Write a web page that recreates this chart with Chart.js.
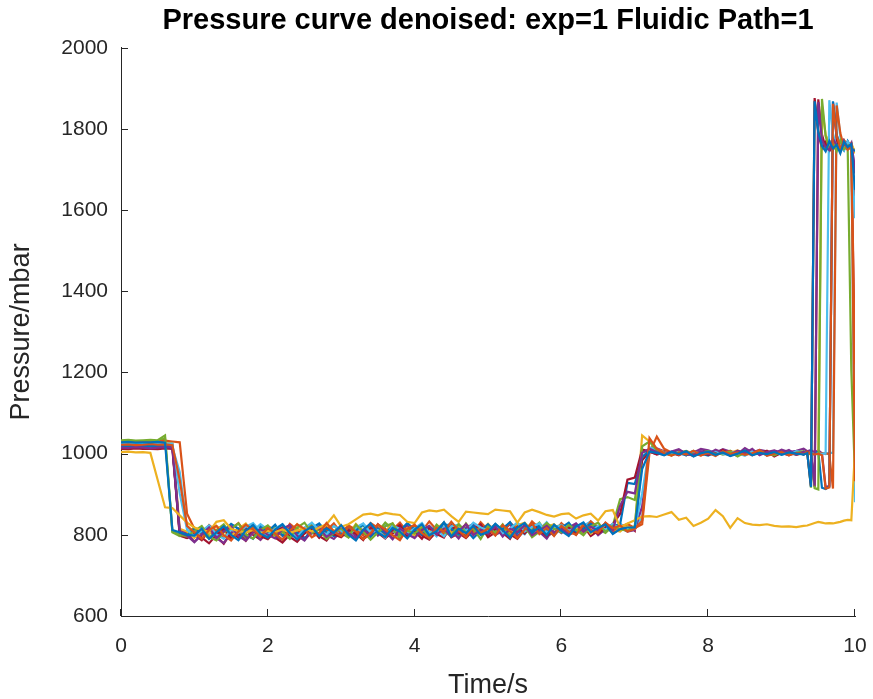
<!DOCTYPE html>
<html>
<head>
<meta charset="utf-8">
<script src="https://cdn.jsdelivr.net/npm/chart.js@4.4.1/dist/chart.umd.min.js"></script>
<style>
  html, body { margin: 0; padding: 0; background: #fff; }
  #wrap { width: 873px; height: 699px; }
</style>
</head>
<body>
<div id="wrap"><canvas id="pressure-chart" width="873" height="699"></canvas></div>
<script>
// time axis (s): 0.1 s steps, then 0.05 s over the final pulse
const timeS = [
  0,0.1,0.2,0.3,0.4,0.5,0.6,0.7,0.8,0.9,
  1,1.1,1.2,1.3,1.4,1.5,1.6,1.7,1.8,1.9,
  2,2.1,2.2,2.3,2.4,2.5,2.6,2.7,2.8,2.9,
  3,3.1,3.2,3.3,3.4,3.5,3.6,3.7,3.8,3.9,
  4,4.1,4.2,4.3,4.4,4.5,4.6,4.7,4.8,4.9,
  5,5.1,5.2,5.3,5.4,5.5,5.6,5.7,5.8,5.9,
  6,6.1,6.2,6.3,6.4,6.5,6.6,6.7,6.8,6.9,
  7,7.1,7.2,7.3,7.4,7.5,7.6,7.7,7.8,7.9,
  8,8.1,8.2,8.3,8.4,8.5,8.6,8.7,8.8,8.9,
  9,9.1,9.2,9.3,
  9.35,9.4,9.45,9.5,9.55,9.6,9.65,9.7,9.75,9.8,9.85,9.9,9.95,10
];

const xTicks = [0, 2, 4, 6, 8, 10];
const yTicks = [600, 800, 1000, 1200, 1400, 1600, 1800, 2000];

// pressure (mbar), one array per run
const blue1 = [
  1028,1029,1027,1028,1028,1029,1027,812,806,800,
  798,815,790,806,821,800,787,811,824,803,
  793,813,826,804,789,809,820,797,816,805,
  824,800,786,812,828,805,795,817,808,791,
  813,826,799,809,831,796,815,804,822,800,
  807,827,812,793,818,829,805,819,799,825,
  810,797,821,830,806,817,826,802,814,818,
  818,962,1005,1002,996,1004,999,1006,993,1001,
  1005,997,1003,994,1000,1008,996,1002,999,1004,
  997,1003,1000,998,
  1001,918,1868,1792,1758,1745,1770,1752,1761,1740,1768,1755,1762,1650
];
const orange1 = [
  1022,1023,1021,1022,1024,1022,1023,1021,935,822,
  806,790,812,822,799,786,808,825,813,796,
  817,803,788,810,826,815,794,805,829,808,
  797,820,808,789,804,826,813,799,787,815,
  825,804,792,817,808,832,811,794,821,805,
  815,798,824,809,792,813,828,802,817,797,
  822,808,800,825,812,805,830,816,823,808,
  815,835,1038,1012,1001,995,1003,998,1007,996,
  1002,994,1006,999,1003,997,1001,1009,995,1000,
  1004,996,1002,999,
  1003,1000,998,1000,996,914,917,1862,1785,1752,1768,1749,1760,932
];
const yellowOdd = [
  1004,1005,1003,1004,1002,935,868,866,848,830,
  818,812,808,832,836,815,809,806,812,804,
  810,807,813,805,811,816,808,818,826,848,
  820,826,838,850,852,848,854,851,849,832,
  829,855,860,858,862,846,832,857,855,853,
  851,862,860,858,830,855,862,856,849,845,
  851,853,840,848,852,835,858,861,818,828,
  836,845,846,844,850,856,837,842,822,830,
  840,861,846,817,841,829,825,824,826,822,
  820,821,819,822,
  823,826,829,832,830,828,829,828,830,832,835,837,836,1010
];
const purple1 = [
  1015,1014,1016,1015,1013,1015,1016,1015,806,798,
  782,801,818,792,808,821,797,786,806,814,
  800,791,815,824,798,786,809,817,795,806,
  821,804,791,813,800,826,808,789,816,802,
  792,812,822,801,815,795,808,826,799,813,
  803,821,796,815,807,824,799,811,822,805,
  816,801,826,808,820,811,829,812,872,906,
  902,1002,1012,1004,998,1005,1011,1000,996,1006,
  999,1010,1003,997,1007,1001,1012,996,1004,1008,
  1002,1009,997,1005,
  1000,1003,921,1866,1772,1755,1748,1776,1760,1745,1771,1752,1764,1702
];
const green1 = [
  1033,1034,1032,1033,1034,1033,1045,809,800,796,
  810,822,795,786,806,816,828,801,791,812,
  823,799,808,792,818,830,804,813,790,805,
  816,795,825,808,788,806,821,828,799,810,
  803,818,792,823,808,797,827,805,815,790,
  820,805,826,798,813,821,794,808,829,815,
  806,824,812,799,821,830,807,822,814,810,
  822,1018,1030,1008,1001,996,1003,1007,995,1002,
  1006,998,1001,1005,993,1003,999,1007,1000,996,
  1004,999,1002,1006,
  998,1001,915,912,1874,1782,1751,1766,1745,1772,1750,1758,1205,940
];
const cyan1 = [
  1024,1025,1023,1024,1026,1024,1025,1025,902,812,
  797,810,823,801,790,813,805,820,829,808,
  800,815,826,806,794,817,830,811,801,822,
  810,797,818,828,805,812,793,822,815,803,
  816,829,805,813,796,821,825,809,830,818,
  811,826,802,815,831,808,820,828,806,817,
  824,810,818,831,807,822,813,827,816,810,
  816,902,1016,1009,1002,997,1005,1000,1006,998,
  1003,1007,998,1004,1001,995,1006,1002,997,1005,
  1001,998,1006,1003,
  1000,1002,997,1001,999,1002,1871,1788,1755,1762,1748,1769,1757,1580
];
const red1 = [
  1012,1011,1013,1012,1012,1011,1013,1012,800,793,
  806,793,779,800,816,791,803,785,811,797,
  789,808,818,795,783,804,813,793,817,801,
  794,811,803,787,818,805,791,812,824,798,
  808,790,817,802,793,823,806,797,814,826,
  800,815,805,790,820,803,827,811,797,816,
  808,820,800,824,812,803,817,826,852,936,
  941,1010,1006,998,1003,996,1008,1001,994,1004,
  997,1003,1009,995,1002,1006,998,1001,1007,993,
  1002,996,1004,999,
  1002,920,1876,1790,1752,1768,1745,1760,1772,1749,1763,1750,1758,1620
];
const blue2 = [
  1018,1019,1017,1018,1018,1019,1018,1018,805,799,
  815,805,822,797,810,827,815,800,790,820,
  808,825,798,813,805,788,817,828,806,797,
  801,818,810,826,795,815,804,822,810,829,
  813,800,821,807,829,815,801,813,792,810,
  826,807,815,831,804,817,810,824,812,799,
  818,830,805,815,827,816,809,822,826,928,
  925,992,1008,1003,997,1005,1001,996,1004,1000,
  995,1004,1000,997,1006,1002,999,1005,996,1003,
  998,1002,1005,997,
  1003,999,1001,1004,916,913,919,1868,1786,1760,1747,1770,1753,1745
];
const orange2 = [
  1030,1031,1029,1030,1031,1030,1032,1030,1028,852,
  815,800,824,809,792,815,829,804,817,797,
  822,810,798,827,813,803,821,794,811,828,
  804,823,812,798,829,817,801,813,830,807,
  823,809,833,812,802,819,810,826,805,831,
  812,826,803,830,814,806,833,816,827,804,
  829,812,822,808,833,818,825,811,820,827,
  817,826,1002,1042,1012,1003,997,1006,1001,995,
  1004,998,1002,1006,999,1003,996,1005,1001,1007,
  1000,1004,997,1002,
  1005,1001,998,1003,1000,1002,998,914,1858,1790,1755,1768,1751,1220
];
const yellow2 = [
  1026,1027,1025,1026,1026,1027,1026,1026,815,808,
  792,812,801,822,809,796,815,828,804,817,
  805,793,813,801,826,808,818,797,822,810,
  815,801,827,809,795,820,808,828,803,817,
  798,824,809,815,830,804,821,799,817,808,
  827,808,819,803,824,830,812,805,820,826,
  808,823,814,829,803,817,827,812,808,823,
  815,1045,1030,1011,1004,999,1006,1002,998,1005,
  1001,1006,997,1003,1008,1000,1004,998,1006,1002,
  999,1005,1001,1003,
  1000,998,1002,1001,1855,1784,1770,1755,1766,1748,1772,1757,1765,1740
];
const purple2 = [
  1020,1021,1019,1020,1021,1020,1019,1020,812,804,
  783,800,813,792,780,804,816,795,808,788,
  812,797,788,818,806,792,804,821,800,790,
  809,820,796,804,826,798,815,791,806,823,
  796,815,804,821,798,810,791,817,827,803,
  815,800,810,826,797,812,822,807,791,818,
  804,818,828,809,822,799,814,826,818,808,
  812,870,1010,1013,1006,1001,1009,996,1003,1012,
  1008,1002,1011,1005,999,1014,1003,1009,1006,1001,
  1010,1004,1007,1012,
  1006,1009,1003,1008,1001,917,921,1866,1778,1762,1770,1752,1766,1690
];
const green2 = [
  1030,1031,1029,1030,1030,1031,1038,806,797,803,
  818,805,791,812,826,800,810,788,821,806,
  796,820,808,790,815,804,828,797,810,823,
  804,793,816,824,799,808,830,814,791,812,
  820,806,798,825,809,817,795,828,806,818,
  802,826,811,799,828,805,815,830,804,820,
  824,808,817,801,830,814,805,822,888,893,
  886,1003,1008,1001,1005,997,1004,999,1007,1002,
  998,1004,1001,1007,996,1002,1005,999,1003,997,
  1005,1000,1003,998,
  1001,916,1870,1795,1760,1748,1771,1755,1762,1744,1767,1752,1760,1745
];
const cyan2 = [
  1016,1017,1015,1016,1017,1016,1015,1016,955,818,
  804,819,795,808,823,800,815,791,810,826,
  813,802,822,808,793,818,804,826,812,799,
  820,808,797,826,812,801,828,810,799,818,
  806,824,812,796,820,829,804,816,825,809,
  824,807,817,829,811,801,826,813,831,806,
  815,829,806,822,833,811,825,817,828,812,
  819,843,1012,1005,999,1003,1008,997,1002,1006,
  1000,996,1004,1001,1006,998,1003,1007,999,1002,
  1004,1001,997,1003,
  1000,1004,1002,999,1001,999,1002,1002,1865,1780,1756,1769,1752,880
];
const red2 = [
  1022,1023,1021,1022,1022,1023,1021,1022,798,792,
  800,787,812,796,778,806,793,817,800,788,
  806,793,781,801,815,791,805,797,786,810,
  796,817,805,790,801,812,793,803,820,795,
  815,798,788,808,820,794,804,792,811,822,
  794,806,816,801,790,813,804,819,797,806,
  816,800,808,822,797,810,821,805,813,826,
  810,984,1004,999,1007,1002,996,1005,1000,1009,
  1003,997,1006,1001,995,1008,1002,999,1005,996,
  1002,1006,999,1004,
  998,1002,918,1873,1786,1754,1770,1749,1765,1756,1772,1760,1748,1180
];

// MATLAB default colour order
const matlabColors = {
  blue: '#0072BD', orange: '#D95319', yellow: '#EDB120', purple: '#7E2F8E',
  green: '#77AC30', cyan: '#4DBEEE', red: '#A2142F'
};

const runs = [
  [blue1, 'blue'], [orange1, 'orange'], [yellowOdd, 'yellow'], [purple1, 'purple'],
  [green1, 'green'], [cyan1, 'cyan'], [red1, 'red'], [blue2, 'blue'],
  [orange2, 'orange'], [yellow2, 'yellow'], [purple2, 'purple'], [green2, 'green'],
  [cyan2, 'cyan'], [red2, 'red']
];

const axisColor = '#262626';
const fontFamily = '"Liberation Sans", Arial, Helvetica, sans-serif';

// MATLAB style tick marks pointing into the axes
const innerTicks = {
  id: 'innerTicks',
  afterDraw(chart) {
    const {ctx, chartArea, scales} = chart;
    ctx.save();
    ctx.strokeStyle = axisColor;
    ctx.lineWidth = 1;
    ctx.beginPath();
    xTicks.forEach(v => {
      const px = Math.round(scales.x.getPixelForValue(v)) - 0.5;
      ctx.moveTo(px, chartArea.bottom);
      ctx.lineTo(px, chartArea.bottom - 7);
    });
    yTicks.forEach(v => {
      const py = Math.round(scales.y.getPixelForValue(v)) + 0.5;
      ctx.moveTo(chartArea.left, py);
      ctx.lineTo(chartArea.left + 7, py);
    });
    ctx.stroke();
    ctx.restore();
  }
};

const datasets = runs.map(([values, colorName], i) => ({
  label: 'run ' + (i + 1),
  data: timeS.map((t, k) => ({x: t, y: values[k]})),
  borderColor: matlabColors[colorName],
  borderWidth: 2.2,
  pointRadius: 0,
  tension: 0,
  fill: false
}));

new Chart(document.getElementById('pressure-chart').getContext('2d'), {
  type: 'line',
  data: {datasets: datasets},
  plugins: [innerTicks],
  options: {
    responsive: false,
    animation: false,
    events: [],
    layout: {padding: {left: 0, right: 18, top: 0, bottom: 0}},
    plugins: {
      legend: {display: false},
      tooltip: {enabled: false},
      title: {
        display: true,
        fullSize: false,
        text: 'Pressure curve denoised: exp=1 Fluidic Path=1',
        color: '#000',
        font: {family: fontFamily, size: 29, weight: 'bold'},
        padding: {top: 4, bottom: 9}
      }
    },
    scales: {
      x: {
        type: 'linear',
        min: 0,
        max: 10,
        grid: {display: false, drawTicks: false},
        border: {display: true, color: axisColor, width: 1},
        ticks: {
          stepSize: 2,
          color: axisColor,
          padding: 18,
          font: {family: fontFamily, size: 21},
          callback: v => String(v)
        },
        title: {
          display: true,
          text: 'Time/s',
          color: axisColor,
          font: {family: fontFamily, size: 27, lineHeight: 1},
          padding: {top: 0, bottom: 0}
        },
        afterFit: function (scale) {
          scale.height = 83;
          scale.paddingLeft = 0;
          scale.paddingRight = 0;
        }
      },
      y: {
        type: 'linear',
        min: 600,
        max: 2000,
        grid: {display: false, drawTicks: false},
        border: {display: true, color: axisColor, width: 1},
        ticks: {
          stepSize: 200,
          color: axisColor,
          padding: 13,
          font: {family: fontFamily, size: 21},
          callback: v => String(v)
        },
        title: {
          display: true,
          text: 'Pressure/mbar',
          color: axisColor,
          font: {family: fontFamily, size: 27, lineHeight: 1},
          padding: {top: 8, bottom: 0}
        },
        afterFit: function (scale) {
          scale.width = 121;
          scale.paddingLeft = 0;
          scale.paddingRight = 0;
        }
      }
    }
  }
});
</script>
</body>
</html>
